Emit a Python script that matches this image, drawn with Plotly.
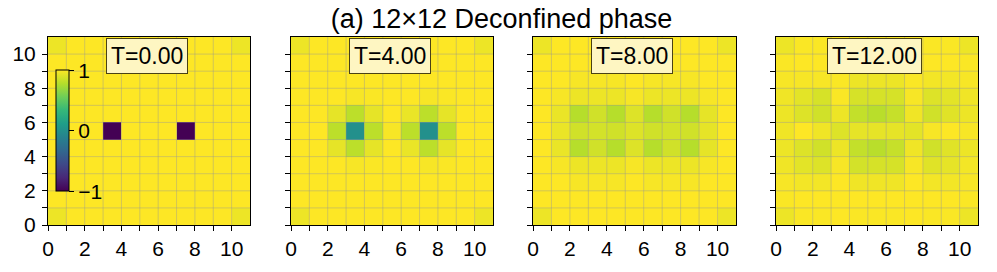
import plotly.graph_objects as go

# Data: 11x11 fields, rows listed from bottom (y=0) to top (y=10)
times = ["T=0.00", "T=4.00", "T=8.00", "T=12.00"]
title_text = "(a) 12×12 Deconfined phase"
tick_vals = list(range(0, 11))
tick_text = ["0", "", "2", "", "4", "", "6", "", "8", "", "10"]
cbar_ticks = [-1, 0, 1]

field_t0 = [
    [0.95, 1, 1, 1, 1, 1, 1, 1, 1, 1, 0.95],
    [1, 1, 1, 1, 1, 1, 1, 1, 1, 1, 1],
    [1, 1, 1, 1, 1, 1, 1, 1, 1, 1, 1],
    [1, 1, 1, 1, 1, 1, 1, 1, 1, 1, 1],
    [1, 1, 1, 1, 1, 1, 1, 1, 1, 1, 1],
    [1, 1, 1, -1, 1, 1, 1, -1, 1, 1, 1],
    [1, 1, 1, 1, 1, 1, 1, 1, 1, 1, 1],
    [1, 1, 1, 1, 1, 1, 1, 1, 1, 1, 1],
    [1, 1, 1, 1, 1, 1, 1, 1, 1, 1, 1],
    [1, 1, 1, 1, 1, 1, 1, 1, 1, 1, 1],
    [0.95, 1, 1, 1, 1, 1, 1, 1, 1, 1, 0.95],
]

field_t4 = [
    [0.95, 1, 1, 1, 1, 1, 1, 1, 1, 1, 0.95],
    [1, 1, 1, 1, 1, 1, 1, 1, 1, 1, 1],
    [1, 1, 1, 1, 1, 1, 1, 1, 1, 1, 1],
    [1, 1, 1, 0.98, 0.99, 1, 1, 0.98, 0.99, 1, 1],
    [1, 1, 0.93, 0.8, 0.93, 1, 0.94, 0.8, 0.93, 1, 1],
    [1, 1, 0.8, 0.0, 0.8, 0.98, 0.8, 0.0, 0.8, 1, 1],
    [1, 1, 0.93, 0.8, 0.93, 1, 0.94, 0.8, 0.93, 1, 1],
    [1, 1, 1, 0.98, 0.99, 1, 1, 0.98, 0.99, 1, 1],
    [1, 1, 1, 1, 1, 1, 1, 1, 1, 1, 1],
    [1, 1, 1, 1, 1, 1, 1, 1, 1, 1, 1],
    [0.95, 1, 1, 1, 1, 1, 1, 1, 1, 1, 0.95],
]

field_t8 = [
    [0.95, 1, 1, 1, 1, 1, 1, 1, 1, 1, 0.95],
    [1, 1, 1, 1, 1, 1, 1, 1, 1, 1, 1],
    [1, 1, 0.98, 0.98, 0.98, 1, 0.98, 0.98, 0.98, 1, 1],
    [1, 0.98, 0.95, 0.95, 0.95, 0.98, 0.95, 0.95, 0.95, 0.98, 1],
    [1, 0.94, 0.78, 0.86, 0.78, 0.9, 0.78, 0.86, 0.78, 0.93, 1],
    [1, 0.94, 0.86, 0.87, 0.86, 0.9, 0.86, 0.87, 0.86, 0.93, 1],
    [1, 0.94, 0.78, 0.86, 0.78, 0.9, 0.78, 0.86, 0.78, 0.93, 1],
    [1, 0.98, 0.95, 0.95, 0.95, 0.98, 0.95, 0.95, 0.95, 0.98, 1],
    [1, 1, 0.98, 0.98, 0.98, 1, 0.98, 0.98, 0.98, 1, 1],
    [1, 1, 1, 1, 1, 1, 1, 1, 1, 1, 1],
    [0.95, 1, 1, 1, 1, 1, 1, 1, 1, 1, 0.95],
]

field_t12 = [
    [0.95, 0.99, 0.99, 1, 0.99, 0.99, 0.99, 1, 0.99, 0.99, 0.95],
    [0.99, 1, 1, 1, 1, 1, 1, 1, 1, 1, 0.99],
    [0.98, 0.97, 0.97, 1, 0.96, 0.96, 0.96, 1, 0.97, 0.97, 0.98],
    [0.96, 0.92, 0.9, 0.98, 0.87, 0.88, 0.88, 0.98, 0.91, 0.93, 0.97],
    [0.95, 0.9, 0.86, 0.95, 0.82, 0.79, 0.83, 0.96, 0.86, 0.91, 0.95],
    [0.96, 1, 0.96, 0.9, 0.93, 0.93, 0.93, 0.92, 0.98, 1, 0.98],
    [0.95, 0.9, 0.86, 0.95, 0.82, 0.79, 0.83, 0.96, 0.86, 0.91, 0.95],
    [0.96, 0.92, 0.88, 0.99, 0.88, 0.88, 0.88, 0.98, 0.9, 0.92, 0.96],
    [0.98, 0.98, 0.98, 0.99, 0.95, 0.95, 0.95, 0.99, 0.97, 0.97, 0.98],
    [0.99, 1, 1, 1, 1, 1, 1, 1, 1, 1, 0.99],
    [0.95, 0.99, 0.99, 1, 0.99, 0.99, 0.99, 1, 0.99, 0.99, 0.95],
]

fields = [field_t0, field_t4, field_t8, field_t12]

W, H = 997, 272
ML, MR, MT, MB = 48, 19, 37, 33
PW = W - ML - MR
PH = H - MT - MB
panel_px = [(48, 250), (291, 493), (533, 736), (776, 978)]
domains = [[(a - ML) / PW, (b - ML) / PW] for a, b in panel_px]

FONT = "Liberation Sans, Arial, sans-serif"

fig = go.Figure()
for i, z in enumerate(fields):
    n = i + 1
    xa = "x" if n == 1 else f"x{n}"
    ya = "y" if n == 1 else f"y{n}"
    fig.add_trace(go.Heatmap(
        z=z, x0=0.5, dx=1, y0=0.5, dy=1,
        coloraxis="coloraxis", xaxis=xa, yaxis=ya,
        hoverinfo="skip",
    ))
    axis_common = dict(
        range=[0, 11], showgrid=False, zeroline=False,
        showline=True, mirror=True, linecolor="black", linewidth=1,
        ticks="outside", ticklen=5, tickwidth=1, tickcolor="black",
        tickvals=tick_vals, tickfont=dict(family=FONT, size=21, color="black"),
        fixedrange=True,
    )
    fig.layout[f"xaxis{'' if n == 1 else n}"] = dict(
        axis_common, domain=domains[i], anchor=ya, ticktext=tick_text,
    )
    fig.layout[f"yaxis{'' if n == 1 else n}"] = dict(
        axis_common, domain=[0, 1], anchor=xa,
        ticktext=tick_text if n == 1 else [""] * len(tick_vals),
        ticklabelstandoff=2,
    )
    # grid lines drawn above cells
    for k in range(1, 11):
        fig.add_shape(type="line", xref=xa, yref=ya, x0=k, x1=k, y0=0, y1=11,
                      line=dict(color="rgba(150,150,150,0.42)", width=1), layer="above")
        fig.add_shape(type="line", xref=xa, yref=ya, x0=0, x1=11, y0=k, y1=k,
                      line=dict(color="rgba(150,150,150,0.42)", width=1), layer="above")
    fig.add_annotation(
        text=times[i], xref=f"{xa} domain", yref=f"{ya} domain",
        x=0.49, y=(239 - 57.5) / PH, xanchor="center", yanchor="middle",
        showarrow=False, font=dict(family=FONT, size=23, color="black"),
        bgcolor="#fef6c2", bordercolor="#4a4214", borderwidth=1, borderpad=4,
    )

fig.update_layout(
    width=W, height=H,
    margin=dict(l=ML, r=MR, t=MT, b=MB, pad=0),
    paper_bgcolor="white", plot_bgcolor="white",
    coloraxis=dict(
        colorscale="Viridis", cmin=-1, cmax=1,
        colorbar=dict(
            x=(55.7 - ML) / PW, xanchor="left",
            y=(239 - 137.8) / PH, yanchor="middle",
            thickness=13, len=121, lenmode="pixels",
            xpad=0, ypad=0, outlinewidth=1, outlinecolor="black",
            tickvals=cbar_ticks, ticks="outside", ticklen=5, tickwidth=1,
            tickcolor="black",
            tickfont=dict(family=FONT, size=21, color="black"),
        ),
    ),
    title=dict(
        text=title_text, xref="container", yref="container",
        x=501.5 / W, y=1 - 19 / H, xanchor="center", yanchor="middle",
        font=dict(family=FONT, size=27, color="black"),
    ),
    showlegend=False,
)

# remove the default 8px page margin so the figure sits at the window origin
fig.write_html(
    "out.html",
    config={"displayModeBar": False},
    post_script="document.body.style.margin='0px';",
)
